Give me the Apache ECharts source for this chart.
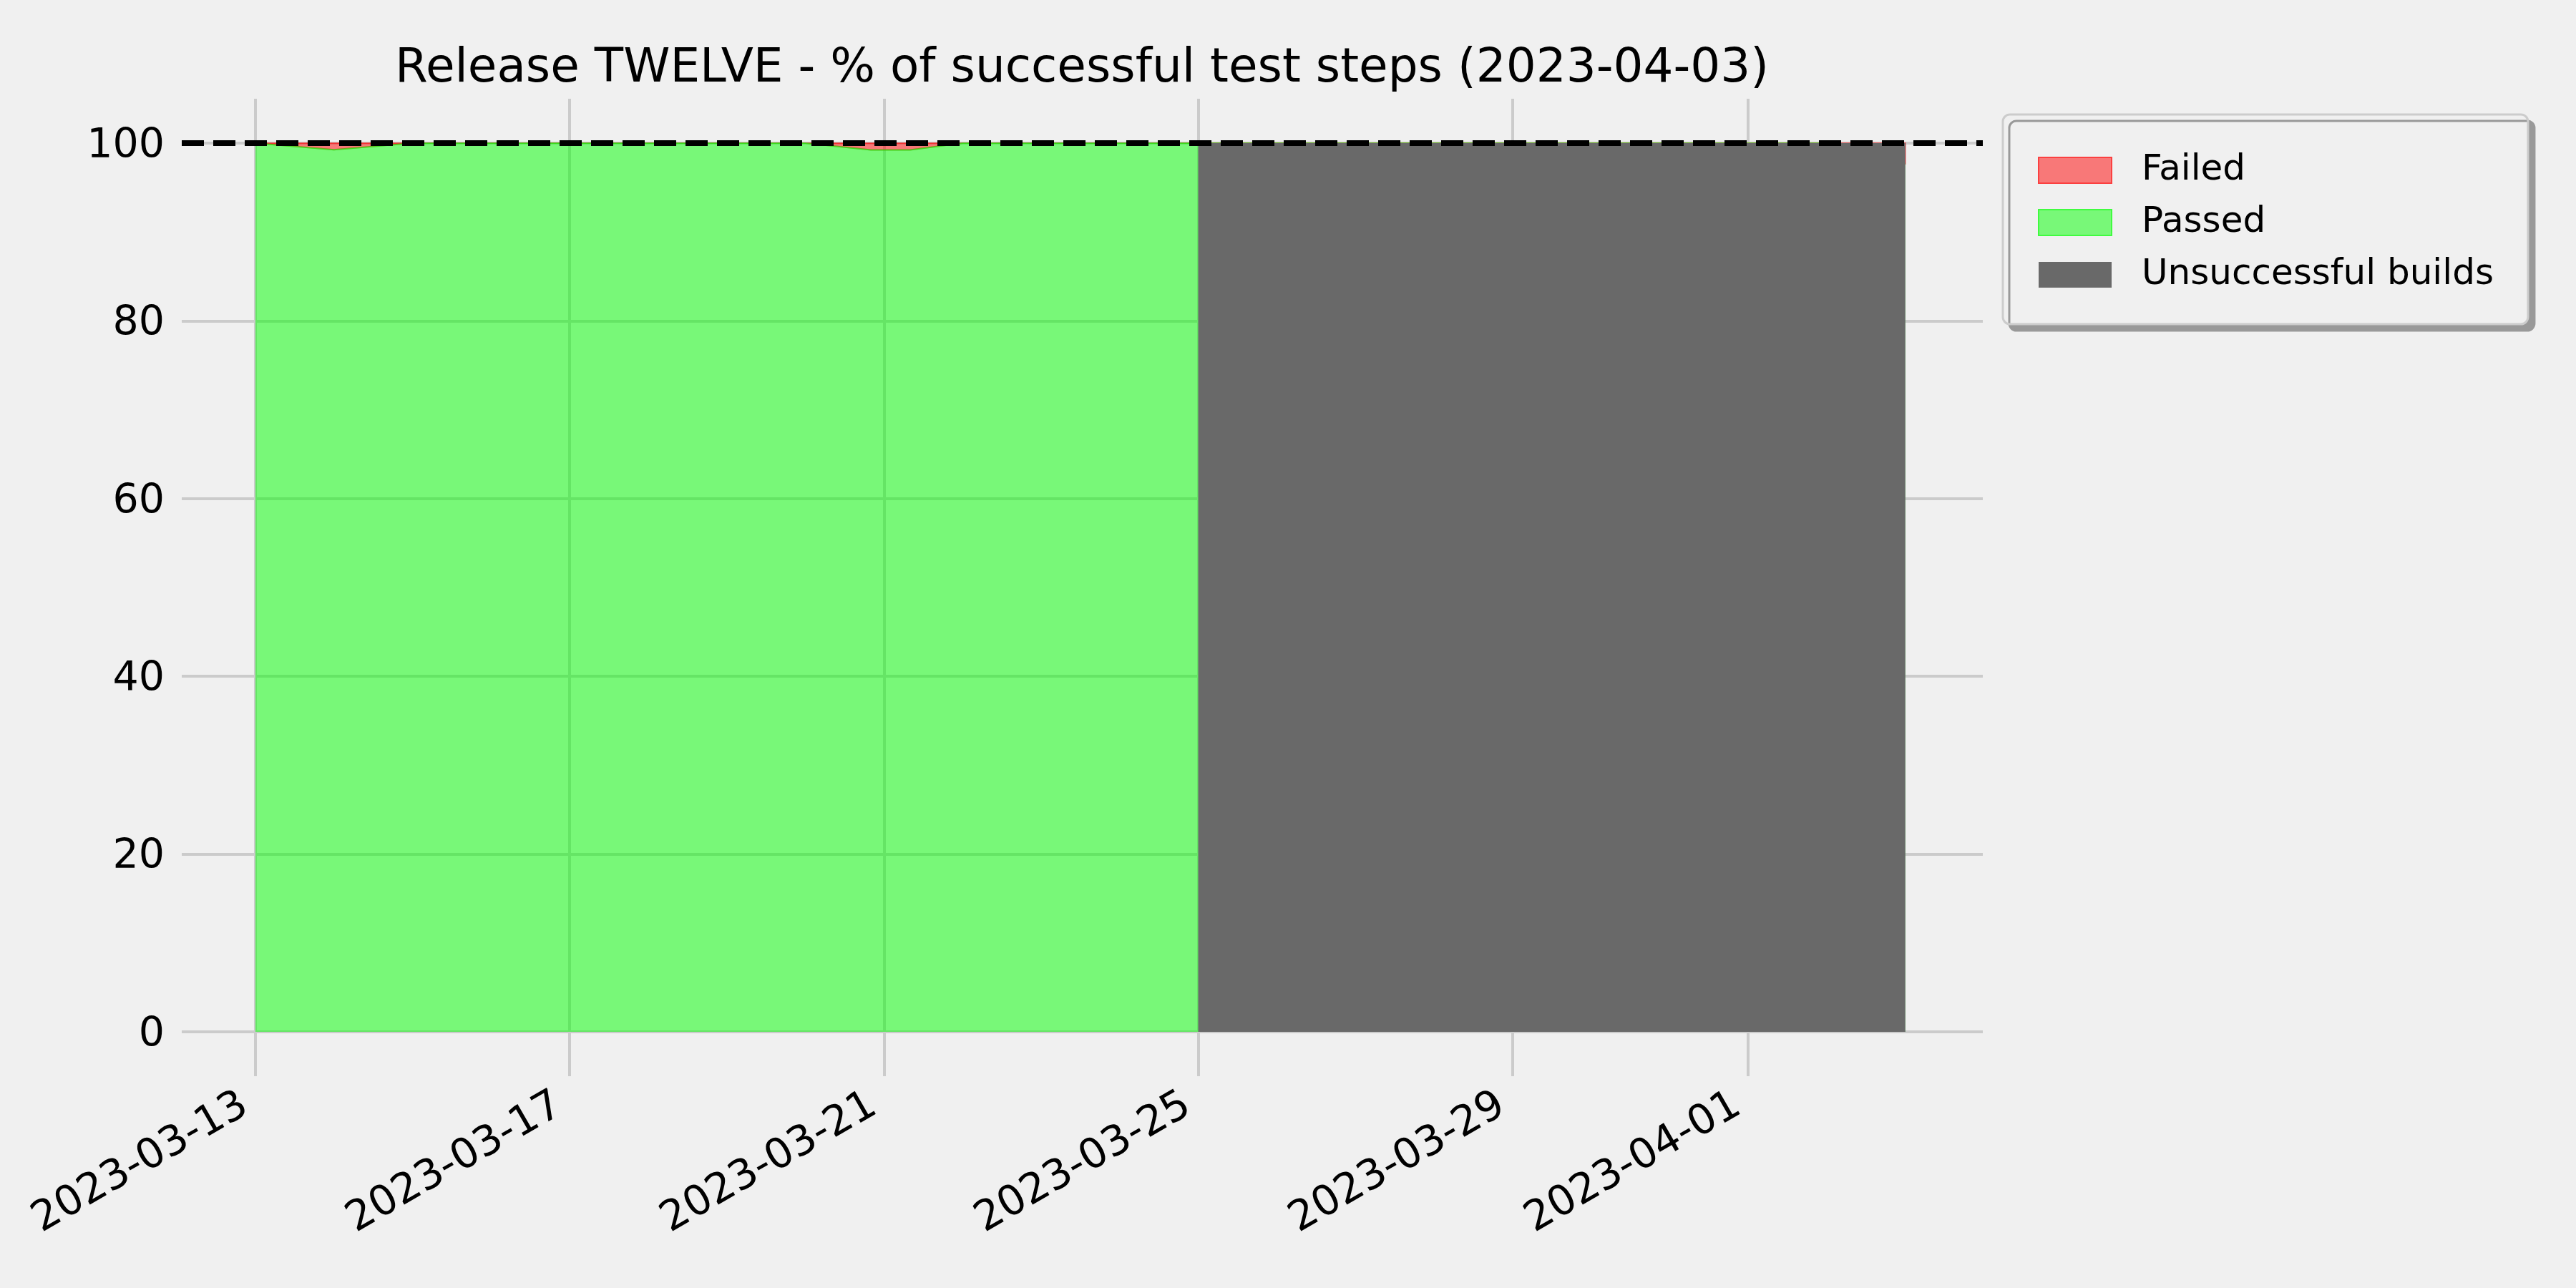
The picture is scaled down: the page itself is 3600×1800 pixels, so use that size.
<!DOCTYPE html>
<html>
<head>
<meta charset="utf-8">
<script src="https://cdn.jsdelivr.net/npm/echarts@6/dist/echarts.min.js"></script>
<style>
html,body{margin:0;padding:0;background:#f0f0f0;}
#chart{width:3600px;height:1800px;}
</style>
</head>
<body>
<div id="chart"></div>
<script>
// ---- data ----
const dates = [
  '2023-03-13', '2023-03-14', '2023-03-15', '2023-03-16', '2023-03-17',
  '2023-03-18', '2023-03-19', '2023-03-20', '2023-03-20 20:00', '2023-03-21 08:00',
  '2023-03-22', '2023-03-23', '2023-03-24', '2023-03-25', '2023-03-26',
  '2023-03-27', '2023-03-28', '2023-03-29', '2023-03-30', '2023-03-31',
  '2023-04-01', '2023-04-02', '2023-04-03'
];
const passedPct = [
  100, 99.27, 100, 100, 100,
  100, 100, 100, 99.25, 99.25,
  100, 100, 100, 100, 100,
  100, 100, 100, 100, 100,
  100, 100, 97.7
];
const failedPct = [
  0, 0.73, 0, 0, 0,
  0, 0, 0, 0.75, 0.75,
  0, 0, 0, 0, 0,
  0, 0, 0, 0, 0,
  0, 0, 2.3
];
const unsuccessfulBuilds = [
  null, null, null, null, null,
  null, null, null, null, null,
  null, null, null, 100, 100,
  100, 100, 100, 100, 100,
  100, 100, 100
];
const xTickLabels = ['2023-03-13', '2023-03-17', '2023-03-21', '2023-03-25', '2023-03-29', '2023-04-01'];
const yTickLabels = [0, 20, 40, 60, 80, 100];
const targetLevel = 100;
const titleText = 'Release TWELVE - % of successful test steps (2023-04-03)';
const seriesNames = ['Failed', 'Passed', 'Unsuccessful builds'];

// ---- build ----
function P(s) {
  const m = s.match(/^(\d+)-(\d+)-(\d+)(?:\s+(\d+):(\d+))?$/);
  return Date.UTC(+m[1], +m[2] - 1, +m[3], m[4] ? +m[4] : 0, m[5] ? +m[5] : 0);
}
const xTicks = xTickLabels.map(P);
const pair = arr => dates.map((d, i) => [P(d), arr[i]]);
const pad2 = n => (n < 10 ? '0' : '') + n;
const fmtDate = v => { const d = new Date(v); return d.getUTCFullYear() + '-' + pad2(d.getUTCMonth() + 1) + '-' + pad2(d.getUTCDate()); };

// failed band: from the passed level up to passed + failed, drawn through the axes' scales
function renderFailedBand(params, api) {
  if (params.dataIndex !== 0) return null;
  const lower = dates.map((d, i) => api.coord([P(d), passedPct[i]]));
  const upper = dates.map((d, i) => api.coord([P(d), passedPct[i] + failedPct[i]]));
  const poly = lower.concat(upper.slice().reverse());
  return {
    type: 'polygon',
    shape: {points: poly},
    style: {fill: 'rgba(255,0,0,0.5)', stroke: 'rgba(255,0,0,0.5)', lineWidth: 2}
  };
}

const FONT = 'DejaVu Sans';
const chart = echarts.init(document.getElementById('chart'), null, {renderer: 'canvas'});

chart.setOption({
  animation: false,
  backgroundColor: '#f0f0f0',
  title: {
    text: titleText,
    left: 1512, top: 57, padding: 0,
    textAlign: 'center',
    textStyle: {fontFamily: FONT, fontSize: 66, fontWeight: 'normal', color: '#000', lineHeight: 80}
  },
  legend: {
    orient: 'vertical', left: 2799, top: 160,
    icon: 'rect', itemWidth: 102, itemHeight: 36, itemGap: 23,
    selectedMode: false,
    padding: [53, 48, 44, 49],
    backgroundColor: '#f0f0f0', borderColor: '#cccccc', borderWidth: 3, borderRadius: 10,
    shadowColor: '#999999', shadowBlur: 0, shadowOffsetX: 9, shadowOffsetY: 9,
    textStyle: {fontFamily: FONT, fontSize: 50, color: '#000', padding: [0, 0, 0, 37]},
    data: [
      {name: seriesNames[0], itemStyle: {color: '#f87878', borderColor: '#fb4040', borderWidth: 2}},
      {name: seriesNames[1], itemStyle: {color: '#78f878', borderColor: '#40fb40', borderWidth: 2}},
      {name: seriesNames[2], itemStyle: {color: '#696969', borderWidth: 0}}
    ]
  },
  grid: {left: 254, right: 829, top: 138, bottom: 296, containLabel: false},
  xAxis: {
    type: 'value',
    min: P('2023-03-12 01:30'), max: P('2023-04-03 23:40'),
    axisLine: {show: false}, axisTick: {show: false}, splitLine: {show: false},
    axisLabel: {
      customValues: xTicks, formatter: v => fmtDate(v),
      rotate: 30, margin: 62, verticalAlign: 'bottom', align: 'right',
      fontFamily: FONT, fontSize: 58, color: '#000'
    }
  },
  yAxis: {
    type: 'value', min: -5, max: 105,
    axisLine: {show: false}, axisTick: {show: false}, splitLine: {show: false},
    axisLabel: {
      customValues: yTickLabels, margin: 24,
      formatter: v => '{v|' + v + '}',
      rich: {v: {fontFamily: FONT, fontSize: 57, color: '#000', padding: [10, 0, 0, 0]}}
    }
  },
  series: [
    {
      name: '__grid', type: 'line', data: [], z: 0, silent: true,
      markLine: {
        z: 1, silent: true, symbol: ['none', 'none'], label: {show: false},
        lineStyle: {color: '#cbcbcb', width: 4, type: 'solid'},
        emphasis: {disabled: true},
        data: xTicks.map(t => ({xAxis: t})).concat(yTickLabels.map(v => ({yAxis: v})))
      }
    },
    {
      name: seriesNames[0], type: 'custom', z: 2, silent: true,
      data: pair(failedPct), encode: {x: 0, y: 1},
      itemStyle: {color: '#f87878'},
      renderItem: renderFailedBand
    },
    {
      name: seriesNames[1], type: 'line', z: 2,
      data: pair(passedPct), showSymbol: false, symbol: 'none',
      itemStyle: {color: '#78f878'},
      lineStyle: {color: 'rgba(0,255,0,0.5)', width: 2},
      areaStyle: {color: 'rgba(0,255,0,0.5)', opacity: 1},
      emphasis: {disabled: true}
    },
    {
      name: seriesNames[2], type: 'line', z: 3,
      data: pair(unsuccessfulBuilds), showSymbol: false, symbol: 'none', connectNulls: false,
      itemStyle: {color: '#696969'},
      lineStyle: {width: 0, color: '#696969'},
      areaStyle: {color: '#696969', opacity: 1},
      emphasis: {disabled: true},
      markLine: {
        z: 10, silent: true, symbol: ['none', 'none'], label: {show: false},
        lineStyle: {color: '#000', width: 8, type: [31, 13]},
        emphasis: {disabled: true},
        data: [{yAxis: targetLevel}]
      }
    }
  ]
});
</script>
</body>
</html>
